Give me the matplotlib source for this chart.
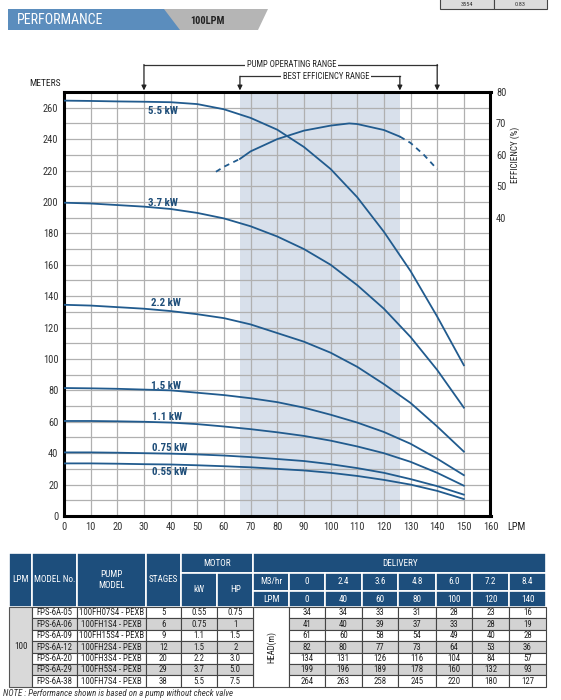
import numpy as np
import matplotlib
matplotlib.use("Agg")
import matplotlib.pyplot as plt
from matplotlib import font_manager
from matplotlib.patches import Rectangle, Polygon

# ---------------- data ----------------
lpm = [0, 10, 20, 30, 40, 50, 60, 70, 80, 90, 100, 110, 120, 130, 140, 150]
head_55 = [264.5, 264.3, 264, 263.8, 263.5, 262.3, 259, 253.5, 246, 235, 221, 203, 181, 156, 127, 96]
head_37 = [199.5, 199, 198, 197, 195.5, 193, 189.5, 184.5, 178, 170, 160, 147, 132, 114, 93, 69]
head_22 = [134.5, 134, 133, 132, 130.5, 128.5, 126, 122, 116.5, 111, 104, 95, 84, 72, 57, 41]
head_15 = [81.5, 81.3, 81, 80.5, 80, 78.5, 77, 75, 72.5, 69, 64.5, 59.5, 53.5, 46, 36.5, 26]
head_11 = [60.5, 60.5, 60.3, 60, 59.5, 58.5, 57, 55.3, 53.3, 51, 48, 44.3, 40, 34.5, 27.5, 19.3]
head_075 = [40.5, 40.5, 40.3, 40, 39.7, 39.2, 38.5, 37.5, 36.3, 35, 33, 30.5, 27.5, 23.5, 19, 13.6]
head_055 = [33.5, 33.5, 33.3, 33, 32.8, 32.3, 31.7, 31, 30, 29, 27.5, 25.5, 23, 20, 16, 10.8]
curve_labels = ["5.5 kW", "3.7 kW", "2.2 kW", "1.5 kW", "1.1 kW", "0.75 kW", "0.55 kW"]

eff_lpm = [57, 60, 66, 70, 80, 90, 100, 107, 110, 120, 126, 130, 135, 140]
eff_val = [54.6, 56.2, 58.7, 61.1, 65, 67.7, 69.3, 70, 69.8, 67.9, 65.8, 63.8, 60, 55.4]

best_eff_range = [66, 126]
operating_range = [30, 140]

# table
tbl_lpm = "100"
models = ["FPS-6A-05", "FPS-6A-06", "FPS-6A-09", "FPS-6A-12", "FPS-6A-20", "FPS-6A-29", "FPS-6A-38"]
pump_models = ["100FH07S4 - PEXB", "100FH1S4 - PEXB", "100FH15S4 - PEXB", "100FH2S4 - PEXB",
               "100FH3S4 - PEXB", "100FH5S4 - PEXB", "100FH7S4 - PEXB"]
stages = ["5", "6", "9", "12", "20", "29", "38"]
kw = ["0.55", "0.75", "1.1", "1.5", "2.2", "3.7", "5.5"]
hp = ["0.75", "1", "1.5", "2", "3.0", "5.0", "7.5"]
m3hr = ["0", "2.4", "3.6", "4.8", "6.0", "7.2", "8.4"]
deliv_lpm = ["0", "40", "60", "80", "100", "120", "140"]
head_table = [
    [34, 34, 33, 31, 28, 23, 16],
    [41, 40, 39, 37, 33, 28, 19],
    [61, 60, 58, 54, 49, 40, 28],
    [82, 80, 77, 73, 64, 53, 36],
    [134, 131, 126, 116, 104, 84, 57],
    [199, 196, 189, 178, 160, 132, 93],
    [264, 263, 258, 245, 220, 180, 127],
]

# ---------------- fonts ----------------
entries = font_manager.fontManager.ttflist
def is_cond(f):
    return str(f.stretch).lower() in ("condensed", "semi-condensed", "extra-condensed")
FAM, STRETCH, K = ["Liberation Sans", "DejaVu Sans"], "normal", 0.9
names = {f.name for f in entries}
for cand in ["Roboto Condensed", "Open Sans Condensed", "Noto Sans Condensed", "Liberation Sans Narrow",
             "DejaVu Sans Condensed"]:
    if cand in names:
        FAM, STRETCH, K = [cand, "DejaVu Sans"], "normal", 1.0
        break
else:
    for fam in ["Roboto", "Open Sans", "Noto Sans", "DejaVu Sans"]:
        if any(f.name == fam and is_cond(f) for f in entries):
            st = [f.stretch for f in entries if f.name == fam and is_cond(f)][0]
            FAM, STRETCH, K = [fam, "DejaVu Sans"], st, 1.0
            break
plt.rcParams["font.family"] = FAM
plt.rcParams["font.stretch"] = STRETCH

BLUE = "#215b8e"
DARK = "#1f4e79"
TXT = "#333333"

fig = plt.figure(figsize=(5.61, 7.0), dpi=100)
fig.patch.set_facecolor("white")

ov = fig.add_axes([0, 0, 1, 1])
ov.set_xlim(0, 561)
ov.set_ylim(700, 0)
ov.axis("off")

# banner
ov.add_patch(Polygon([[158, 9], [268, 9], [258, 30], [172, 30]], closed=True, fc="#b5b5b5", ec="none"))
ov.add_patch(Polygon([[8, 9], [164, 9], [180, 30], [8, 30]], closed=True, fc="#5b8dbd", ec="none"))
ov.text(17, 20, "PERFORMANCE", color="white", fontsize=10 * K, va="center", ha="left")
ov.text(207, 21, "100LPM", color="#222222", fontsize=7.5 * K, va="center", ha="center", fontweight="bold")

# tiny fragment top right
ov.add_patch(Rectangle((440, -2), 54, 11, fc="#dcdcdc", ec="#444444", lw=0.8))
ov.add_patch(Rectangle((494, -2), 53, 11, fc="#dcdcdc", ec="#444444", lw=0.8))
ov.text(467, 4.5, "3554", fontsize=4.5, ha="center", va="center", color="#333333")
ov.text(520, 4.5, "0.83", fontsize=4.5, ha="center", va="center", color="#333333")

# ---------------- main chart ----------------
L, R, T, B = 64, 490.5, 92, 516
ax = fig.add_axes([L / 561, 1 - B / 700, (R - L) / 561, (B - T) / 700])
ax.set_xlim(0, 160)
ax.set_ylim(0, 270)
ax.set_axisbelow(True)
ax.axvspan(best_eff_range[0], best_eff_range[1], color="#d8e0eb", zorder=0.1, lw=0)
ax.set_xticks(np.arange(0, 161, 10))
ax.set_yticks(np.arange(0, 261, 20))
ax.set_yticks(np.arange(0, 271, 10), minor=True)
ax.grid(True, which="both", color="#b0b0b0", lw=0.9)
ax.tick_params(which="both", length=0, labelsize=7.5 * K, colors=TXT, pad=4)
for s in ax.spines.values():
    s.set_linewidth(2.2)
    s.set_color("black")

heads = [head_55, head_37, head_22, head_15, head_11, head_075, head_055]
for h in heads:
    ax.plot(lpm, h, color=BLUE, lw=1.3, zorder=3)

label_pos = [(37.2, 258), (37.3, 199.5), (38.3, 135.5), (38.3, 83), (38.6, 63.3), (39.8, 43.5), (39.8, 28.2)]
for txt, (x, y) in zip(curve_labels, label_pos):
    ax.text(x, y, txt, color=DARK, fontsize=7.8 * K, fontweight="bold", ha="center", va="center", zorder=4)

# range arrows above chart
ylo = 271
y_op = 287.5
y_be = 280
ax.plot(operating_range, [y_op, y_op], color="#333333", lw=0.9, clip_on=False)
ax.plot(best_eff_range, [y_be, y_be], color="#333333", lw=0.9, clip_on=False)
for x, y0 in [(operating_range[0], y_op), (operating_range[1], y_op), (best_eff_range[0], y_be), (best_eff_range[1], y_be)]:
    ax.annotate("", xy=(x, ylo), xytext=(x, y0), annotation_clip=False,
                arrowprops=dict(arrowstyle="-|>", color="#222222", lw=0.9, mutation_scale=7, shrinkA=0, shrinkB=0))
ax.text(85.3, y_op, "PUMP OPERATING RANGE", fontsize=6.2 * K, ha="center", va="center", color="#222222",
        bbox=dict(fc="white", ec="none", pad=1.5), clip_on=False)
ax.text(98.3, y_be, "BEST EFFICIENCY RANGE", fontsize=6.2 * K, ha="center", va="center", color="#222222",
        bbox=dict(fc="white", ec="none", pad=1.5), clip_on=False)

ov.text(45, 83, "METERS", fontsize=6.8 * K, ha="center", va="center", color="#222222")
ov.text(516, 527, "LPM", fontsize=7.5 * K, ha="center", va="center", color="#222222")

# efficiency axis
ax2 = ax.twinx()
ax2.set_ylim(-55, 80)
ax2.set_yticks([40, 50, 60, 70, 80])
ax2.tick_params(length=0, labelsize=7.5 * K, colors=TXT, pad=4)
for s in ax2.spines.values():
    s.set_visible(False)
ex = np.array(eff_lpm)
ev = np.array(eff_val)
m1 = (ex >= 66) & (ex <= 126)
m0 = ex <= 66
m2 = ex >= 126
ax2.plot(ex[m1], ev[m1], color=BLUE, lw=1.3, zorder=3)
ax2.plot(ex[m0], ev[m0], color=BLUE, lw=1.3, ls=(0, (3, 2.5)), zorder=3)
ax2.plot(ex[m2], ev[m2], color=BLUE, lw=1.3, ls=(0, (3, 2.5)), zorder=3)
ov.text(515, 155, "EFFICIENCY (%)", fontsize=6.5 * K, rotation=90, ha="center", va="center", color="#222222")

# ---------------- table ----------------
cx = [9.3, 32.3, 77.3, 145.7, 181, 217.3, 253.3, 289, 325, 361.7, 398.3, 435.7, 472.3, 509, 546]
ry = [553, 573, 591, 607]
dr_top = 607
dr_h = (686.7 - 607) / 7
HB = "#1d4e7c"
FS_H = 6.6 * K
FS_D = 6.3 * K

def hcell(x0, x1, y0, y1, txt, fs=FS_H):
    ov.add_patch(Rectangle((x0, y0), x1 - x0, y1 - y0, fc=HB, ec="white", lw=1.2))
    ov.text((x0 + x1) / 2, (y0 + y1) / 2, txt, color="white", fontsize=fs, ha="center", va="center",
            linespacing=1.3)

hcell(cx[0], cx[1], ry[0], ry[3], "LPM")
hcell(cx[1], cx[2], ry[0], ry[3], "MODEL No.")
hcell(cx[2], cx[3], ry[0], ry[3], "PUMP\nMODEL")
hcell(cx[3], cx[4], ry[0], ry[3], "STAGES")
hcell(cx[4], cx[6], ry[0], ry[1], "MOTOR")
hcell(cx[4], cx[5], ry[1], ry[3], "kW")
hcell(cx[5], cx[6], ry[1], ry[3], "HP")
hcell(cx[6], cx[-1], ry[0], ry[1], "DELIVERY")
hcell(cx[6], cx[7], ry[1], ry[2], "M3/hr")
hcell(cx[6], cx[7], ry[2], ry[3], "LPM")
for i in range(7):
    hcell(cx[7 + i], cx[8 + i], ry[1], ry[2], m3hr[i])
    hcell(cx[7 + i], cx[8 + i], ry[2], ry[3], deliv_lpm[i])

ov.add_patch(Rectangle((cx[0], dr_top), cx[1] - cx[0], 7 * dr_h, fc="#d9d9d9", ec="#555555", lw=0.8))
ov.text((cx[0] + cx[1]) / 2, dr_top + 3.5 * dr_h, tbl_lpm, fontsize=FS_H, ha="center", va="center", color="#222222")
ov.add_patch(Rectangle((cx[6], dr_top), cx[7] - cx[6], 7 * dr_h, fc="white", ec="#555555", lw=0.8))
ov.text((cx[6] + cx[7]) / 2, dr_top + 3.5 * dr_h, "HEAD(m)", fontsize=FS_D, rotation=90,
        ha="center", va="center", color="#222222")
for r in range(7):
    y0 = dr_top + r * dr_h
    fc = "#d3d3d3" if r % 2 == 1 else "white"
    row = [models[r], pump_models[r], stages[r], kw[r], hp[r]]
    for c, t in enumerate(row):
        x0, x1 = cx[1 + c], cx[2 + c]
        ov.add_patch(Rectangle((x0, y0), x1 - x0, dr_h, fc=fc, ec="#444444", lw=0.8))
        ov.text((x0 + x1) / 2, y0 + dr_h / 2 + 0.3, t, fontsize=FS_D, ha="center", va="center", color="#222222")
    for c in range(7):
        x0, x1 = cx[7 + c], cx[8 + c]
        ov.add_patch(Rectangle((x0, y0), x1 - x0, dr_h, fc=fc, ec="#444444", lw=0.8))
        ov.text((x0 + x1) / 2, y0 + dr_h / 2 + 0.3, str(head_table[r][c]), fontsize=FS_D,
                ha="center", va="center", color="#222222")

ov.text(3, 693, "NOTE : Performance shown is based on a pump without check valve", fontsize=6.4,
        style="italic", ha="left", va="center", color="#333333")

fig.savefig("out.png", dpi=100)
